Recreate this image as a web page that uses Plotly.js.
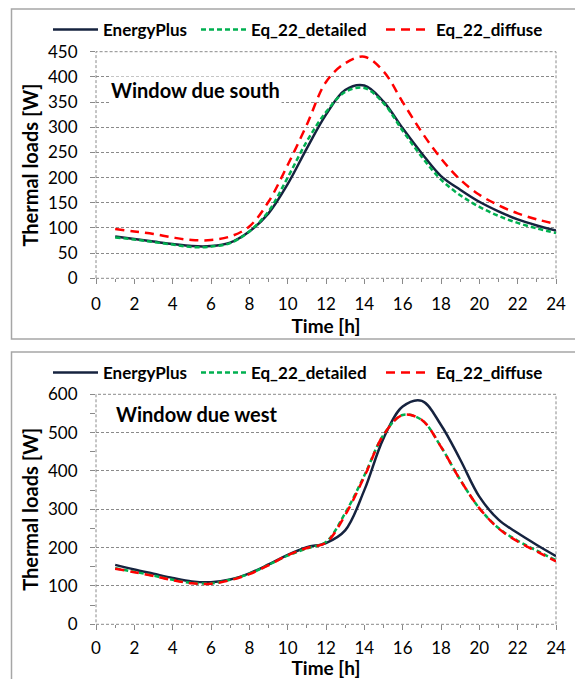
<!DOCTYPE html>
<html>
<head>
<meta charset="utf-8">
<script src="https://cdn.plot.ly/plotly-3.0.1.min.js"></script>
<style>html,body{margin:0;padding:0;background:#fff;}#chart{width:575px;height:679px;}</style>
</head>
<body>
<div id="chart"></div>
<script>
// ---- data ----
var hours = [1,2,3,4,5,6,7,8,9,10,11,12,13,14,15,16,17,18,19,20,21,22,23,24];
var seriesNames = ["EnergyPlus", "Eq_22_detailed", "Eq_22_diffuse"];

var southEnergyPlus = [83,78,73,68,64,64,71,93,129,187,258,325,374,383,351,298,248,203,176,152,133,117,105,95];
var southDetailed   = [81,77,72,67,62,63,70,93,133,200,272,330,370,378,348,293,241,196,165,142,124,110,99,90];
var southDiffuse    = [98,93,88,81,76,76,83,103,152,225,305,390,427,440,411,350,290,238,196,166,145,129,117,108];

var westEnergyPlus  = [155,143,132,121,112,110,117,133,156,181,201,212,245,350,485,568,583,520,430,333,273,238,207,178];
var westDetailed    = [146,137,127,116,108,107,116,132,155,179,198,215,290,388,494,546,533,463,377,303,251,218,192,167];
var westDiffuse     = [145,136,126,115,107,106,115,131,154,180,199,213,285,385,494,546,533,463,377,303,250,216,190,164];

var panelLabels = ["Window due south", "Window due west"];
var xTitle = "Time [h]";
var yTitle = "Thermal loads [W]";

// ---- styling ----
var W = 575, H = 679;
var FONT = "Lato, 'Open Sans', sans-serif";
var gridCol = "#8a8a8a";
var colors = ["#16233f", "#00b050", "#ff0000"];
var dashes = ["solid", "5px,3px", "9px,6px"];
function px(x){ return x / W; }
function py(y){ return 1 - y / H; }

var xDom = [px(96), px(556)];
var yDom1 = [py(278.3), py(51.7)];
var yDom2 = [py(624.3), py(394.3)];

var southSets = [southEnergyPlus, southDetailed, southDiffuse];
var westSets = [westEnergyPlus, westDetailed, westDiffuse];
var legendX = [48, 196, 381];
var legendNames1 = ["legend", "legend2", "legend3"];
var legendNames2 = ["legend4", "legend5", "legend6"];

var traces = [];
for (var i = 0; i < 3; i++) {
  traces.push({
    x: hours, y: southSets[i], name: seriesNames[i], type: "scatter", mode: "lines",
    line: {color: colors[i], width: 2.5, dash: dashes[i], shape: "spline", smoothing: 1},
    xaxis: "x", yaxis: "y", legend: legendNames1[i]
  });
}
for (var j = 0; j < 3; j++) {
  traces.push({
    x: hours, y: westSets[j], name: seriesNames[j], type: "scatter", mode: "lines",
    line: {color: colors[j], width: 2.5, dash: dashes[j], shape: "spline", smoothing: 1},
    xaxis: "x2", yaxis: "y2", legend: legendNames2[j]
  });
}

function mkLegend(xp, yp) {
  return {x: px(xp), y: py(yp), xanchor: "left", yanchor: "middle", orientation: "h",
    itemwidth: 45,
    bgcolor: "rgba(0,0,0,0)", borderwidth: 0,
    font: {family: FONT, size: 17, color: "#000", weight: "bold"}};
}

function xAxisDef(anchor, tStand, lblStand) {
  return {
    domain: xDom, anchor: anchor, range: [0, 24], dtick: 2, tick0: 0,
    showgrid: false, zeroline: false, showline: false, automargin: false,
    ticks: "outside", ticklen: 5, tickcolor: gridCol, tickwidth: 1,
    minor: {dtick: 1, ticks: "outside", ticklen: 3, tickcolor: gridCol, showgrid: false},
    tickfont: {family: FONT, size: 17, color: "#000"},
    ticklabelstandoff: lblStand,
    title: {text: xTitle, font: {family: FONT, size: 19, color: "#000", weight: "bold"}, standoff: tStand}
  };
}
function yAxisDef(anchor, maxV, dt, minorDt) {
  var ax = {
    domain: anchor === "x" ? yDom1 : yDom2, anchor: anchor, range: [0, maxV], dtick: dt, tick0: 0,
    showgrid: true, gridcolor: gridCol, gridwidth: 1, griddash: "3px,2px",
    zeroline: false, showline: false,
    ticks: "outside", ticklen: 5, tickcolor: gridCol, tickwidth: 1,
    tickfont: {family: FONT, size: 17, color: "#000"},
    ticklabelstandoff: 9,
    title: {text: yTitle, font: {family: FONT, size: 20, color: "#000", weight: "bold"}, standoff: 4}
  };
  if (minorDt) ax.minor = {dtick: minorDt, ticks: "outside", ticklen: 5, tickcolor: gridCol, showgrid: false};
  return ax;
}

var layout = {
  width: W, height: H,
  margin: {l: 0, r: 0, t: 0, b: 0},
  paper_bgcolor: "#fff", plot_bgcolor: "#fff",
  showlegend: true,
  xaxis: xAxisDef("y", 3, 5),
  yaxis: yAxisDef("x", 450, 50, null),
  xaxis2: xAxisDef("y2", 12, 3),
  yaxis2: yAxisDef("x2", 600, 100, 50),
  legend: mkLegend(legendX[0], 30),
  legend2: mkLegend(legendX[1], 30),
  legend3: mkLegend(legendX[2], 30),
  legend4: mkLegend(legendX[0], 373),
  legend5: mkLegend(legendX[1], 373),
  legend6: mkLegend(legendX[2], 373),
  shapes: [
    {type: "rect", xref: "paper", yref: "paper", x0: px(11.5), x1: 1.02, y0: py(339), y1: py(9),
     line: {color: "#a6a6a6", width: 1.5}, layer: "below"},
    {type: "rect", xref: "paper", yref: "paper", x0: px(11.5), x1: 1.02, y0: -0.02, y1: py(352),
     line: {color: "#a6a6a6", width: 1.5}, layer: "below"},
    {type: "rect", xref: "x domain", yref: "y domain", x0: 0, x1: 1, y0: 0, y1: 1,
     line: {color: gridCol, width: 1, dash: "3px,2px"}, layer: "below"},
    {type: "rect", xref: "x2 domain", yref: "y2 domain", x0: 0, x1: 1, y0: 0, y1: 1,
     line: {color: gridCol, width: 1, dash: "3px,2px"}, layer: "below"}
  ],
  annotations: [
    {xref: "paper", yref: "paper", x: px(109), y: py(90), xanchor: "left", yanchor: "middle",
     text: panelLabels[0], showarrow: false, bgcolor: "#fff",
     font: {family: FONT, size: 20, color: "#000", weight: "bold"}},
    {xref: "paper", yref: "paper", x: px(114), y: py(414), xanchor: "left", yanchor: "middle",
     text: panelLabels[1], showarrow: false, bgcolor: "rgba(255,255,255,0)",
     font: {family: FONT, size: 20, color: "#000", weight: "bold"}}
  ]
};

Plotly.newPlot("chart", traces, layout, {displayModeBar: false, staticPlot: true});
</script>
</body>
</html>
